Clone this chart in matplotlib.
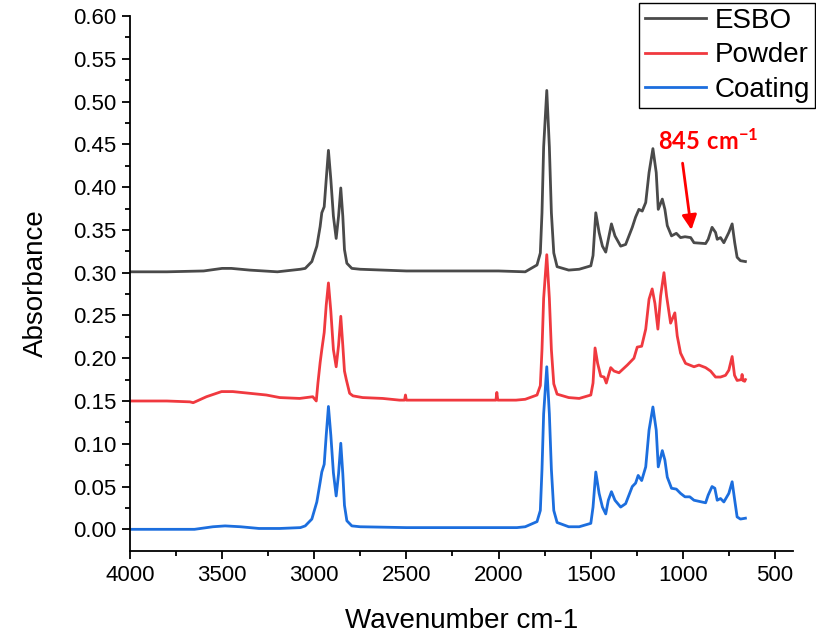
import matplotlib
matplotlib.use("Agg")
import matplotlib.pyplot as plt

plt.rcParams['font.family'] = ['Liberation Sans', 'DejaVu Sans']
plt.rcParams['mathtext.fontset'] = 'custom'
plt.rcParams['mathtext.bf'] = 'Lato:bold'
plt.rcParams['mathtext.rm'] = 'Lato'

# ---- data ----
esbo_w = [4000, 3800, 3600, 3500, 3450, 3350, 3200, 3075, 3049, 3013, 2986, 2968, 2959, 2946, 2935,
          2923, 2910, 2896, 2881, 2868, 2856, 2845, 2836, 2823, 2796, 2751, 2500,
          2200, 2000, 1855, 1791, 1773, 1764, 1755, 1738, 1724, 1713, 1700, 1682, 1619, 1562, 1499, 1487,
          1472, 1454, 1436, 1418, 1404, 1387, 1368, 1337, 1310, 1274, 1256, 1238, 1220, 1201, 1183,
          1162, 1144, 1133, 1111, 1097, 1084, 1061, 1035, 1012, 988, 957, 939, 876, 862, 841, 822,
          813, 795, 777, 750, 732, 718, 705, 687, 660]
esbo_a = [0.301, 0.301, 0.302, 0.305, 0.305, 0.303, 0.301, 0.304, 0.305, 0.313, 0.331, 0.354, 0.370, 0.377, 0.409,
          0.443, 0.409, 0.366, 0.340, 0.366, 0.399, 0.366, 0.327, 0.311, 0.305, 0.304, 0.302,
          0.302, 0.302, 0.301, 0.309, 0.323, 0.370, 0.447, 0.513, 0.447, 0.370, 0.323, 0.307, 0.303, 0.304, 0.308, 0.320,
          0.370, 0.347, 0.331, 0.324, 0.339, 0.357, 0.343, 0.331, 0.333, 0.353, 0.365, 0.374, 0.372, 0.382, 0.417,
          0.445, 0.417, 0.374, 0.386, 0.374, 0.355, 0.343, 0.346, 0.341, 0.342, 0.341, 0.335, 0.334, 0.339, 0.353, 0.347,
          0.339, 0.341, 0.335, 0.347, 0.357, 0.335, 0.318, 0.314, 0.313]

powder_w = [4000, 3800, 3675, 3657, 3585, 3503, 3442, 3260, 3187, 3079, 3008, 2989, 2980, 2968, 2959, 2946, 2935,
            2923, 2910, 2896, 2881, 2868, 2856, 2845, 2836, 2826, 2808, 2790, 2737, 2629, 2537,
            2510, 2505, 2500, 2359, 2176, 2014, 2009, 2004, 1905, 1855, 1791, 1773, 1764, 1755, 1738, 1724, 1713,
            1700, 1682, 1619, 1562, 1499, 1487, 1476, 1462, 1445, 1427, 1415, 1391, 1373, 1346, 1301, 1265,
            1247, 1223, 1201, 1183, 1166, 1151, 1135, 1120, 1102, 1088, 1066, 1043, 1030, 1012, 985,
            939, 912, 876, 849, 822, 795, 768, 750, 732, 719, 705, 682, 678, 674, 664, 660]
powder_a = [0.150, 0.150, 0.149, 0.148, 0.155, 0.161, 0.161, 0.157, 0.154, 0.153, 0.155, 0.150, 0.171, 0.195, 0.210, 0.230, 0.262,
            0.288, 0.255, 0.210, 0.190, 0.215, 0.249, 0.215, 0.185, 0.175, 0.159, 0.156, 0.154, 0.153, 0.151,
            0.151, 0.157, 0.151, 0.151, 0.151, 0.151, 0.160, 0.151, 0.151, 0.152, 0.157, 0.168, 0.210, 0.270, 0.321, 0.270, 0.210,
            0.170, 0.158, 0.154, 0.153, 0.157, 0.171, 0.212, 0.194, 0.179, 0.178, 0.171, 0.189, 0.185, 0.183, 0.192, 0.200,
            0.213, 0.214, 0.234, 0.269, 0.281, 0.264, 0.234, 0.273, 0.300, 0.273, 0.241, 0.253, 0.226, 0.206, 0.194,
            0.190, 0.192, 0.189, 0.185, 0.178, 0.178, 0.180, 0.186, 0.202, 0.180, 0.174, 0.175, 0.181, 0.174, 0.173, 0.175]

coating_w = [4000, 3800, 3650, 3550, 3484, 3400, 3300, 3187, 3075, 3049, 3013, 2986, 2968, 2959, 2946, 2935,
             2923, 2910, 2896, 2881, 2868, 2856, 2845, 2836, 2823, 2796, 2751, 2500, 2200,
             2000, 1900, 1855, 1791, 1773, 1764, 1755, 1738, 1724, 1713, 1700, 1682, 1619, 1562, 1499, 1487, 1472,
             1454, 1436, 1418, 1404, 1387, 1368, 1337, 1310, 1274, 1256, 1242, 1223, 1201, 1183, 1162,
             1144, 1133, 1111, 1097, 1084, 1061, 1035, 1012, 988, 962, 939, 876, 862, 841, 826, 813,
             795, 777, 750, 732, 718, 705, 687, 660]
coating_a = [0.000, 0.000, 0.000, 0.003, 0.004, 0.003, 0.001, 0.001, 0.002, 0.004, 0.012, 0.032, 0.055, 0.067, 0.076, 0.110,
             0.1436, 0.110, 0.066, 0.039, 0.065, 0.1006, 0.065, 0.028, 0.010, 0.004, 0.003, 0.002, 0.002,
             0.002, 0.002, 0.003, 0.009, 0.022, 0.070, 0.135, 0.190, 0.135, 0.070, 0.022, 0.008, 0.003, 0.003, 0.007, 0.026, 0.067,
             0.042, 0.026, 0.018, 0.034, 0.044, 0.034, 0.026, 0.030, 0.050, 0.054, 0.063, 0.057, 0.073, 0.116, 0.143,
             0.116, 0.073, 0.092, 0.081, 0.061, 0.048, 0.047, 0.042, 0.038, 0.038, 0.034, 0.031, 0.040, 0.050, 0.048, 0.034,
             0.036, 0.032, 0.042, 0.0556, 0.034, 0.0145, 0.012, 0.013]

labels = ['ESBO', 'Powder', 'Coating']
colors = ['#4a4a4a', '#f0393f', '#1c6ede']

x_ticks = [4000, 3500, 3000, 2500, 2000, 1500, 1000, 500]
y_ticks = [0.00, 0.05, 0.10, 0.15, 0.20, 0.25, 0.30, 0.35, 0.40, 0.45, 0.50, 0.55, 0.60]

# ---- figure ----
fig = plt.figure(figsize=(8.16, 6.33), dpi=100)
ax = fig.add_axes([0.1593, 0.130, 0.8129, 0.8447])

series = [(esbo_w, esbo_a), (powder_w, powder_a), (coating_w, coating_a)]
for (w, a), lab, c in zip(series, labels, colors):
    ax.plot(w, a, color=c, lw=2.0, label=lab, solid_joinstyle='round')

ax.set_xlim(4000, 400)
ax.set_ylim(-0.025, 0.60)
ax.set_xticks(x_ticks)
ax.set_xticks([3750, 3250, 2750, 2250, 1750, 1250, 750], minor=True)
ax.set_yticks(y_ticks)
ax.set_yticks([0.025 + 0.05 * i for i in range(12)], minor=True)
ax.set_yticklabels([f'{v:.2f}' for v in y_ticks])

for s in ['top', 'right']:
    ax.spines[s].set_visible(False)
for s in ['left', 'bottom']:
    ax.spines[s].set_linewidth(1.3)

ax.tick_params(which='major', direction='out', length=6, width=1.3, labelsize=16, pad=4)
ax.tick_params(which='minor', direction='out', length=3.5, width=1.3)

ax.set_xlabel('Wavenumber cm-1', fontsize=20, labelpad=16)
ax.set_ylabel('Absorbance', fontsize=20, labelpad=17)

leg = fig.legend(loc='upper right', bbox_to_anchor=(0.999, 0.996), fontsize=20,
                 frameon=True, fancybox=False, edgecolor='black', framealpha=1,
                 handlelength=2.2, handletextpad=0.3, labelspacing=0.3,
                 borderpad=0.2, borderaxespad=0.0)
leg.get_frame().set_linewidth(1.0)

# annotation
ax.text(862, 0.452, r'$\mathbf{845\ cm^{-1}}$', color='#ff0000', fontsize=17,
        ha='center', va='center')
ax.annotate('', xy=(953, 0.350), xytext=(1001, 0.428),
            arrowprops=dict(arrowstyle='-|>', color='#ff0000', lw=2.0,
                            mutation_scale=22, shrinkA=0, shrinkB=0))

fig.savefig('out.png', dpi=100)
